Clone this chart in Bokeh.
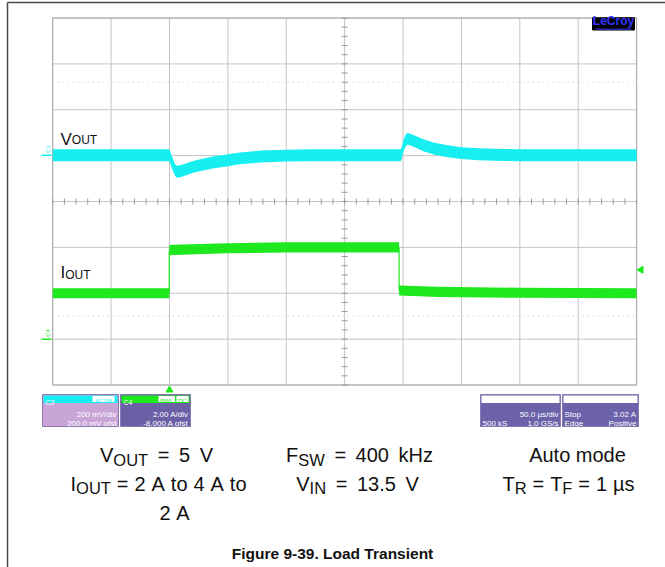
import math
from bokeh.plotting import figure
from bokeh.models import Range1d, Label
from bokeh.embed import file_html
from bokeh.resources import INLINE

US_PER_DIV = 50.0          # timebase
VOUT_MV_PER_DIV = 200.0    # C3
IOUT_A_PER_DIV = 2.0       # C4

vout_t_us = [0, 99, 100, 102, 104.5, 106, 110, 121, 137, 150, 160, 178, 200, 220,
             298, 299, 300, 302, 304, 310, 318, 327, 337, 350, 365, 385, 400, 500]
vout_dev_mv = [0, 0, 0, -30, -62, -72, -69, -50, -32, -22, -14, -6, -2, 0,
               0, 10, 35, 62, 72, 60, 42, 28, 18, 9, 4, 1, 0, 0]
vout_ripple_mv = 26.0      # half height of the noisy trace band

iout_t_us = [0, 99.8, 99.8, 110, 150, 200, 296.6, 296.6, 330, 400, 500]
iout_a = [2.0, 2.0, 3.88, 3.9, 3.96, 4.0, 4.0, 2.12, 2.06, 2.02, 2.0]
iout_ripple_a = 0.22

trigger_t_us = 100.0
trigger_level_a = 3.02

c3_lines = ["200 mV/div", "200.0 mV ofst"]
c4_lines = ["2.00 A/div", "-8.000 A ofst"]
tb_lines = ["50.0 \u00b5s/div", "500 kS", "1.0 GS/s"]
trg_lines = ["Stop", "3.02 A", "Edge", "Positive"]

# ---------------- layout (page pixels) ----------------
W, H = 665, 567
GL, GR, GT, GB = 52.2, 636.1, 17.5, 384.5
XDIV = (GR - GL) / 10.0
YDIV = (GB - GT) / 8.0
YC = (GT + GB) / 2.0
C3_POS = 1.01    # divisions
C4_POS = -3.0    # divisions (zero level)

def X(px):
    return (px - GL) / XDIV * US_PER_DIV

def Y(py):
    return (YC - py) / YDIV

FONT = "Liberation Sans"
CYAN = "#16eef0"
GREEN = "#1ee81e"

p = figure(width=W, height=H, x_range=Range1d(X(0), X(W)),
           y_range=Range1d(Y(H), Y(0)), output_backend="svg",
           toolbar_location=None, x_axis_location=None, y_axis_location=None,
           min_border=0, outline_line_color=None,
           background_fill_color="white", border_fill_color="white")
p.grid.visible = False

# outer frame of the document figure
p.segment(x0=[X(7)], y0=[Y(2)], x1=[X(7)], y1=[Y(570)], line_color="#4a4a4a", line_width=1.5)
p.segment(x0=[X(7)], y0=[Y(2)], x1=[X(670)], y1=[Y(2)], line_color="#4a4a4a", line_width=1.5)

# scope graticule
xs = [k * US_PER_DIV for k in range(11)]
p.segment(x0=xs, y0=[-4] * 11, x1=xs, y1=[4] * 11, line_color="#c4c4c4", line_width=1)
ys = list(range(-4, 5))
p.segment(x0=[0] * 9, y0=ys, x1=[10 * US_PER_DIV] * 9, y1=ys, line_color="#c4c4c4", line_width=1)
p.segment(x0=[0, 500, 0, 0], y0=[-4, -4, 4, -4], x1=[0, 500, 500, 500], y1=[4, 4, 4, -4],
          line_color="#a8a8a8", line_width=1)
for yd in (2.6, -2.5):
    p.line([0, 500], [yd, yd], line_color="#c8c8c8", line_dash="1 4", line_width=1)
tx = 3.0 / XDIV * US_PER_DIV
ty = 3.0 / YDIV
tk_y = [-4 + 0.2 * k for k in range(41)]
p.segment(x0=[250 - tx] * 41, y0=tk_y, x1=[250 + tx] * 41, y1=tk_y, line_color="#9a9a9a", line_width=1)
tk_x = [10.0 * k for k in range(51)]
p.segment(x0=tk_x, y0=[-ty] * 51, x1=tk_x, y1=[ty] * 51, line_color="#9a9a9a", line_width=1)

# traces
v_c = [C3_POS + d / VOUT_MV_PER_DIV for d in vout_dev_mv]
v_lo = [c - vout_ripple_mv / VOUT_MV_PER_DIV for c in v_c]
v_hi = [c + vout_ripple_mv / VOUT_MV_PER_DIV for c in v_c]
p.varea(x=vout_t_us, y1=v_lo, y2=v_hi, fill_color=CYAN)

i_c = [C4_POS + a / IOUT_A_PER_DIV for a in iout_a]
i_lo = [c - iout_ripple_a / IOUT_A_PER_DIV for c in i_c]
i_hi = [c + iout_ripple_a / IOUT_A_PER_DIV for c in i_c]
p.varea(x=iout_t_us, y1=i_lo, y2=i_hi, fill_color=GREEN)
p.line(iout_t_us, i_c, line_color=GREEN, line_width=1.2)

# channel markers
p.segment(x0=[X(41)], y0=[C3_POS], x1=[X(51)], y1=[C3_POS], line_color=CYAN, line_width=1.5)
p.segment(x0=[X(41)], y0=[C4_POS], x1=[X(51)], y1=[C4_POS], line_color=GREEN, line_width=1.5)
p.add_layout(Label(x=X(47.5), y=C3_POS + 0.05, text="C3", angle=math.pi / 2, text_color=CYAN,
                   text_font=FONT, text_font_size="6px", text_baseline="middle"))
p.add_layout(Label(x=X(47.5), y=C4_POS + 0.05, text="C4", angle=math.pi / 2, text_color=GREEN,
                   text_font=FONT, text_font_size="6px", text_baseline="middle"))
# trigger markers
p.scatter(x=[trigger_t_us], y=[Y(389.5)], marker="triangle", size=7, fill_color=GREEN, line_color=GREEN)
p.scatter(x=[X(640.5)], y=[C4_POS + trigger_level_a / IOUT_A_PER_DIV], marker="triangle", size=7,
          angle=math.pi / 2, fill_color=GREEN, line_color=GREEN)

# LeCroy logo
p.quad(left=[X(592)], right=[X(634)], top=[Y(17.3)], bottom=[Y(29.5)], fill_color="black", line_color="black")
p.add_layout(Label(x=X(613), y=Y(27.5), text="LeCroy", text_align="center", text_color="#3535ff",
                   text_font=FONT, text_font_size="12px", text_font_style="bold"))
p.segment(x0=[X(595)], y0=[Y(28.6)], x1=[X(631)], y1=[Y(28.6)], line_color="#3535ff", line_width=1)

# ---------- rich text helper ----------
AW = {' ': .278, '=': .584, '.': .278, '-': .333, '0': .556, '1': .556, '2': .556, '3': .556,
      '4': .556, '5': .556, '9': .556, 'A': .667, 'F': .611, 'I': .278, 'N': .722, 'O': .778,
      'R': .722, 'S': .667, 'T': .611, 'U': .722, 'V': .667, 'W': .944, 'H': .722,
      'd': .556, 'e': .556, 'k': .5, 'm': .833, 'o': .556, 's': .5, 't': .278, 'u': .556,
      'z': .5, '\u00b5': .576}

def tw(s, size):
    return sum(AW.get(ch, .556) for ch in s) * size

def tokens(parts):
    out = []
    for t, s, dy in parts:
        word = ""
        for ch in t:
            if ch == " ":
                if word:
                    out.append((word, s, dy))
                    word = ""
                out.append((" ", s, dy))
            else:
                word += ch
        if word:
            out.append((word, s, dy))
    return out

def rich(parts, yb, xc=None, span=None, color="#111111"):
    toks = tokens(parts)
    natural = sum(tw(t, s) for t, s, _ in toks)
    nsp = sum(1 for t, _, _ in toks if t == " ")
    extra = 0.0
    if span is not None:
        xc = (span[0] + span[1]) / 2.0
        if nsp:
            extra = max(-1.5, min(4.0, ((span[1] - span[0]) - natural) / nsp))
    total = natural + extra * nsp
    x = xc - total / 2.0
    for t, s, dy in toks:
        if t == " ":
            x += tw(t, s) + extra
            continue
        p.add_layout(Label(x=X(x), y=Y(yb + dy), text=t, text_align="left",
                           text_baseline="alphabetic", text_color=color,
                           text_font=FONT, text_font_size=f"{s}px"))
        x += tw(t, s)

# trace labels inside the graticule
rich([("V", 17, 0), ("OUT", 12, 1.2)], 138.5, xc=60 + (tw("V", 17) + tw("OUT", 12)) / 2)
rich([("I", 17, 0), ("OUT", 12, 2.8)], 272, xc=60 + (tw("I", 17) + tw("OUT", 12)) / 2)

# ---------- bottom info boxes ----------
def box(x0, x1, y0, y1, strip_color, body_color, border="#8a78b4"):
    p.quad(left=[X(x0)], right=[X(x1)], top=[Y(y0)], bottom=[Y(y1)],
           fill_color=body_color, line_color=border, line_width=1)
    p.quad(left=[X(x0 + 1)], right=[X(x1 - 1)], top=[Y(y0 + 1)], bottom=[Y(y0 + 8.5)],
           fill_color=strip_color, line_color=None)

def small(x, yb, t, align, color="white", size="8px"):
    p.add_layout(Label(x=X(x), y=Y(yb), text=t, text_align=align, text_baseline="alphabetic",
                       text_color=color, text_font=FONT, text_font_size=size))

def badge(x0, x1, y0, t, color):
    p.quad(left=[X(x0)], right=[X(x1)], top=[Y(y0)], bottom=[Y(y0 + 6)],
           fill_color="white", line_color=None)
    small((x0 + x1) / 2, y0 + 5.3, t, "center", color, "6px")

BY0, BY1 = 394, 426
L1, L2 = 413.5, 423
box(42, 118, BY0, BY1, CYAN, "#c9a4d6")
small(45, BY0 + 7.5, "C3", "left", "white", "7px")
badge(92, 114, BY0 + 1.5, "AC1M", CYAN)
small(116, L1, c3_lines[0], "right")
small(116, L2, c3_lines[1], "right")

box(120, 190, BY0, BY1, GREEN, "#6b60a6")
small(123, BY0 + 7.5, "C4", "left", "white", "7px")
badge(158, 174.5, BY0 + 1.5, "BWL", GREEN)
badge(176, 188, BY0 + 1.5, "DC", GREEN)
small(188, L1, c4_lines[0], "right")
small(188, L2, c4_lines[1], "right")

box(480, 560, BY0, BY1, "white", "#6b62aa")
small(558, L1, tb_lines[0], "right")
small(482, L2, tb_lines[1], "left")
small(558, L2, tb_lines[2], "right")

box(562, 638, BY0, BY1, "white", "#6b62aa")
small(564, L1, trg_lines[0], "left")
small(636, L1, trg_lines[1], "right")
small(564, L2, trg_lines[2], "left")
small(636, L2, trg_lines[3], "right")

# ---------- caption block ----------
F1, F2, SD = 20, 16.5, 4.5
Y1, Y2, Y3 = 454.5, 483, 512
rich([("V", F1, 0), ("OUT", F2, SD), (" = 5 V", F1, 0)], Y1, span=(97, 215))
rich([("F", F1, 0), ("SW", F2, SD), (" = 400 kHz", F1, 0)], Y1, span=(284, 434))
rich([("Auto mode", F1, 0)], Y1, xc=577)
rich([("I", F1, 0), ("OUT", F2, SD), (" = 2 A to 4 A to", F1, 0)], Y2, span=(70, 246))
rich([("V", F1, 0), ("IN", F2, SD), (" = 13.5 V", F1, 0)], Y2, span=(292, 422))
rich([("T", F1, 0), ("R", F2, SD), (" = T", F1, 0), ("F", F2, SD), (" = 1 \u00b5s", F1, 0)], Y2,
     span=(502, 634))
rich([("2 A", F1, 0)], Y3, xc=174)
p.add_layout(Label(x=X(332), y=Y(553), text="Figure 9-39. Load Transient", text_align="center",
                   text_baseline="alphabetic", text_color="#111111", text_font=FONT,
                   text_font_size="15.5px", text_font_style="bold"))

open("out.html", "w").write(file_html(p, INLINE))
